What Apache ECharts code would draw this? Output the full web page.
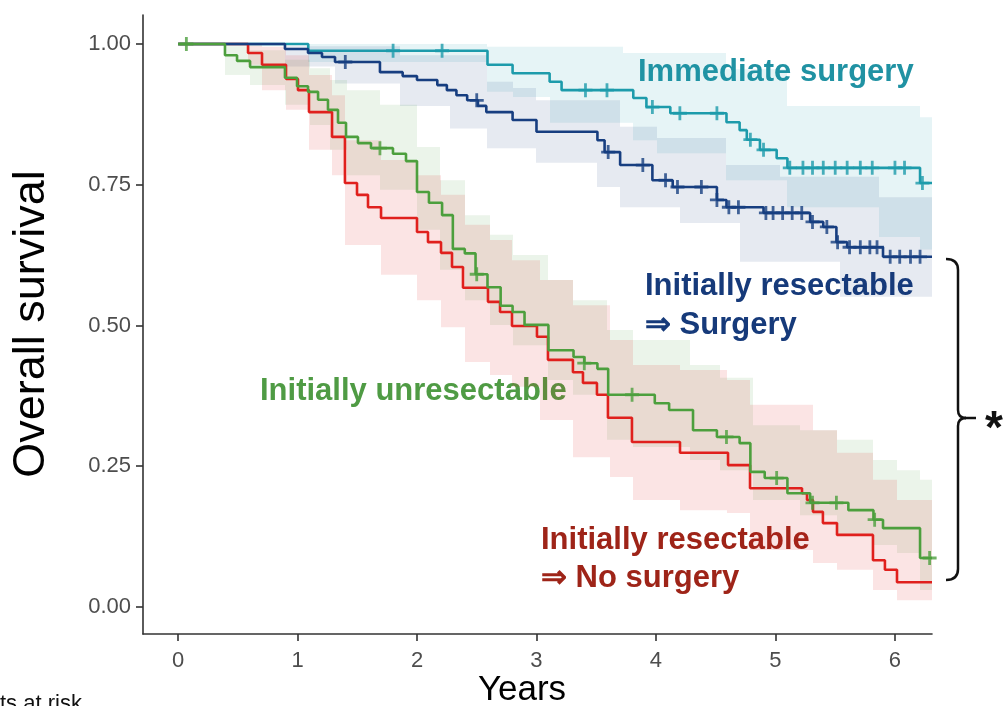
<!DOCTYPE html>
<html><head><meta charset="utf-8">
<script src="https://cdn.jsdelivr.net/npm/echarts@6/dist/echarts.min.js"></script>
<style>html,body{margin:0;padding:0;background:#fff}#c{width:1006px;height:706px}</style>
</head><body><div id="c"></div>
<script>
// ---- ticks ----
const xTicks = [0, 1, 2, 3, 4, 5, 6];
const yTicks = [0, 0.25, 0.5, 0.75, 1];
const xEnd = 6.31;

// ---- Immediate surgery ----
const tealT = [0, 1.09, 2.59, 2.80, 3.11, 3.21, 3.81, 3.92, 4.12, 4.59, 4.70, 4.76, 4.87, 5.01, 5.10, 6.21];
const tealS = [1.0, 0.988, 0.963, 0.948, 0.933, 0.918, 0.904, 0.888, 0.877, 0.861, 0.847, 0.830, 0.812, 0.797, 0.780, 0.753];
const tealCens = [1.80, 2.21, 3.41, 3.59, 3.97, 4.20, 4.51, 4.79, 4.90, 5.12, 5.23, 5.31, 5.40, 5.50, 5.60, 5.71, 5.81, 6.00, 6.08, 6.23];
const tealBandX = [0, 1.09, 2.59, 2.80, 3.11, 3.72, 3.81, 4.01, 4.59, 5.10, 5.87, 6.21, 6.31];
const tealBandLo = [1.0, 0.968, 0.915, 0.906, 0.860, 0.860, 0.829, 0.806, 0.758, 0.710, 0.657, 0.635];
const tealBandHi = [1.0, 1.0, 0.995, 0.995, 0.995, 0.984, 0.984, 0.984, 0.955, 0.890, 0.890, 0.870];

// ---- Initially resectable => Surgery ----
const blueT = [0, 0.895, 1.088, 1.205, 1.314, 1.69, 1.88, 2.0, 2.17, 2.25, 2.33, 2.42, 2.51, 2.58, 2.80, 3.00, 3.51, 3.57, 3.70, 3.97, 4.14, 4.51, 4.59, 4.90, 5.29, 5.40, 5.51, 5.60, 5.90];
const blueS = [1.0, 0.991, 0.984, 0.977, 0.968, 0.950, 0.943, 0.936, 0.927, 0.918, 0.909, 0.900, 0.890, 0.879, 0.865, 0.844, 0.829, 0.808, 0.785, 0.758, 0.746, 0.723, 0.710, 0.700, 0.684, 0.675, 0.648, 0.639, 0.622];
const blueCens = [1.40, 2.50, 3.60, 3.89, 4.08, 4.18, 4.38, 4.51, 4.61, 4.69, 4.92, 4.98, 5.06, 5.14, 5.22, 5.31, 5.43, 5.52, 5.62, 5.71, 5.79, 5.85, 5.96, 6.04, 6.13, 6.21];
const blueBandX = [0, 0.895, 1.314, 1.858, 2.276, 2.59, 2.80, 3.0, 3.51, 3.70, 4.01, 4.20, 4.59, 4.70, 5.04, 5.54, 5.87, 6.31];
const blueBandLo = [1.0, 0.96, 0.93, 0.89, 0.85, 0.815, 0.815, 0.789, 0.746, 0.710, 0.710, 0.682, 0.682, 0.613, 0.613, 0.551, 0.551];
const blueBandHi = [1.0, 0.996, 0.996, 0.980, 0.980, 0.933, 0.922, 0.900, 0.900, 0.853, 0.833, 0.833, 0.785, 0.785, 0.764, 0.764, 0.728];

// ---- Initially unresectable ----
const greenT = [0, 0.393, 0.494, 0.603, 0.895, 0.996, 1.088, 1.172, 1.255, 1.339, 1.406, 1.506, 1.615, 1.799, 1.908, 2.0, 2.10, 2.21, 2.30, 2.40, 2.49, 2.59, 2.70, 2.80, 2.90, 3.10, 3.31, 3.40, 3.51, 3.60, 3.99, 4.11, 4.31, 4.51, 4.70, 4.79, 4.91, 5.10, 5.29, 5.61, 5.82, 5.90, 6.21];
const greenS = [1.0, 0.980, 0.970, 0.959, 0.940, 0.925, 0.915, 0.901, 0.883, 0.860, 0.835, 0.824, 0.815, 0.805, 0.792, 0.737, 0.718, 0.696, 0.636, 0.628, 0.591, 0.568, 0.535, 0.524, 0.501, 0.456, 0.444, 0.433, 0.423, 0.377, 0.362, 0.350, 0.314, 0.302, 0.291, 0.240, 0.229, 0.202, 0.185, 0.172, 0.155, 0.140, 0.087];
const greenCens = [0.07, 1.69, 2.50, 3.40, 3.80, 4.59, 5.01, 5.31, 5.51, 5.83, 6.29];
const greenBandX = [0, 0.393, 0.603, 0.895, 1.105, 1.272, 1.414, 1.690, 2.0, 2.192, 2.402, 2.611, 2.803, 3.096, 3.305, 3.590, 3.808, 4.285, 4.536, 4.812, 5.205, 5.515, 5.816, 6.017, 6.209, 6.31];
const greenBandLo = [1.0, 0.945, 0.927, 0.892, 0.856, 0.812, 0.767, 0.741, 0.670, 0.599, 0.545, 0.501, 0.465, 0.403, 0.377, 0.297, 0.284, 0.261, 0.243, 0.190, 0.163, 0.128, 0.110, 0.096, 0.030];
const greenBandHi = [1.0, 0.996, 0.989, 0.972, 0.957, 0.936, 0.918, 0.892, 0.817, 0.758, 0.696, 0.661, 0.625, 0.581, 0.545, 0.492, 0.474, 0.430, 0.407, 0.323, 0.314, 0.297, 0.261, 0.243, 0.226];

// ---- Initially resectable => No surgery ----
const redT = [0, 0.586, 0.703, 0.904, 1.004, 1.096, 1.289, 1.397, 1.498, 1.590, 1.699, 2.0, 2.092, 2.201, 2.293, 2.385, 2.594, 2.695, 2.795, 3.004, 3.096, 3.305, 3.389, 3.506, 3.598, 3.799, 4.201, 4.603, 4.787, 5.222, 5.264, 5.314, 5.397, 5.515, 5.816, 5.916, 6.017];
const redS = [1.0, 0.984, 0.963, 0.938, 0.918, 0.879, 0.835, 0.753, 0.732, 0.710, 0.691, 0.666, 0.648, 0.629, 0.604, 0.567, 0.542, 0.524, 0.499, 0.480, 0.439, 0.417, 0.398, 0.377, 0.336, 0.293, 0.274, 0.252, 0.211, 0.202, 0.190, 0.169, 0.149, 0.128, 0.083, 0.066, 0.044];
const redBandX = [0, 0.586, 0.703, 0.904, 1.096, 1.289, 1.397, 1.699, 2.0, 2.201, 2.402, 2.611, 2.795, 3.029, 3.305, 3.615, 3.808, 4.201, 4.594, 4.787, 5.314, 5.515, 5.816, 6.017, 6.31];
const redBandLo = [1.0, 0.963, 0.918, 0.883, 0.812, 0.767, 0.643, 0.590, 0.545, 0.497, 0.435, 0.412, 0.391, 0.332, 0.266, 0.231, 0.190, 0.172, 0.167, 0.101, 0.078, 0.066, 0.030, 0.012];
const redBandHi = [1.0, 1.0, 0.995, 0.980, 0.945, 0.909, 0.829, 0.794, 0.767, 0.732, 0.679, 0.652, 0.616, 0.581, 0.536, 0.474, 0.430, 0.421, 0.403, 0.359, 0.314, 0.274, 0.226, 0.190];

// ---- helpers ----
const FONT = '"Liberation Sans", Arial, sans-serif';
const C = { teal: '#1d9bab', blue: '#173e80', green: '#4c9f3d', red: '#e0201d' };
const plusPath = 'path://M4,0H6V4H10V6H6V10H4V6H0V4H4Z';

function stepData(T, S) { const d = T.map((t, i) => [t, S[i]]); d.push([xEnd, S[S.length - 1]]); return d; }
function survAt(T, S, t) { let s = S[0]; for (let i = 0; i < T.length; i++) { if (T[i] <= t + 1e-9) s = S[i]; } return s; }
function bandSeries(X, Lo, Hi, color, op) {
  return {
    type: 'custom', silent: true, z: 1,
    data: Lo.map((lo, i) => [X[i], X[i + 1], lo, Hi[i]]),
    encode: { x: [0, 1], y: [2, 3] },
    renderItem: function (params, api) {
      const p0 = api.coord([api.value(0), api.value(3)]);
      const p1 = api.coord([api.value(1), api.value(2)]);
      const x0 = Math.round(p0[0]), x1 = Math.round(p1[0]);
      return { type: 'rect', shape: { x: x0, y: p0[1], width: x1 - x0, height: p1[1] - p0[1] }, style: { fill: color, opacity: op } };
    }
  };
}
function lineSeries(T, S, color, z) {
  return { type: 'line', data: stepData(T, S), step: 'end', symbol: 'none', showSymbol: false, z: z,
    lineStyle: { color: color, width: 2.6 }, emphasis: { disabled: true } };
}
function censSeries(T, S, cens, color, z) {
  return { type: 'scatter', data: cens.map(t => [t, survAt(T, S, t)]), symbol: plusPath, symbolSize: 14, z: z,
    itemStyle: { color: color }, emphasis: { disabled: true } };
}

const bracketStyle = { stroke: '#111', lineWidth: 2.5, fill: null };
const chart = echarts.init(document.getElementById('c'), null, { renderer: 'canvas' });
chart.setOption({
  animation: false,
  backgroundColor: '#fff',
  grid: { left: 143, right: 74, top: 15, bottom: 72 },
  xAxis: {
    type: 'value', min: -0.293, max: xEnd,
    axisLine: { show: true, onZero: false, lineStyle: { color: '#333', width: 1.6 } },
    axisTick: { show: true, customValues: xTicks, length: 7, lineStyle: { color: '#333', width: 1.6 } },
    axisLabel: { customValues: xTicks, fontSize: 22, color: '#4d4d4d', margin: 16, fontFamily: FONT },
    splitLine: { show: false }
  },
  yAxis: {
    type: 'value', min: -0.048, max: 1.0515,
    axisLine: { show: true, onZero: false, lineStyle: { color: '#333', width: 1.6 } },
    axisTick: { show: true, customValues: yTicks, length: 7, lineStyle: { color: '#333', width: 1.6 } },
    axisLabel: { customValues: yTicks, fontSize: 22, color: '#4d4d4d', margin: 12, fontFamily: FONT, formatter: v => v.toFixed(2) },
    splitLine: { show: false }
  },
  series: [
    bandSeries(tealBandX, tealBandLo, tealBandHi, C.teal, 0.11),
    bandSeries(blueBandX, blueBandLo, blueBandHi, C.blue, 0.11),
    bandSeries(greenBandX, greenBandLo, greenBandHi, C.green, 0.11),
    bandSeries(redBandX, redBandLo, redBandHi, C.red, 0.12),
    lineSeries(tealT, tealS, C.teal, 3),
    lineSeries(redT, redS, C.red, 4),
    lineSeries(blueT, blueS, C.blue, 5),
    lineSeries(greenT, greenS, C.green, 6),
    censSeries(tealT, tealS, tealCens, C.teal, 7),
    censSeries(blueT, blueS, blueCens, C.blue, 7),
    censSeries(greenT, greenS, greenCens, C.green, 7)
  ],
  graphic: [
    { type: 'text', x: 32, y: 324, rotation: Math.PI / 2, style: { text: 'Overall survival', font: '45px ' + FONT, align: 'center', verticalAlign: 'middle', fill: '#000' } },
    { type: 'text', x: 522, y: 690, style: { text: 'Years', font: '35px ' + FONT, align: 'center', verticalAlign: 'middle', fill: '#000' } },
    { type: 'text', x: 0, y: 693, style: { text: 'ts at risk', font: '22px ' + FONT, verticalAlign: 'top', fill: '#111' } },
    { type: 'text', x: 638, y: 72, style: { text: 'Immediate surgery', font: 'bold 31px ' + FONT, verticalAlign: 'middle', fill: '#2092a3' } },
    { type: 'text', x: 645, y: 286, style: { text: 'Initially resectable', font: 'bold 31px ' + FONT, verticalAlign: 'middle', fill: '#163a7a' } },
    { type: 'text', x: 645, y: 325, style: { text: '\u21D2 Surgery', font: 'bold 31px ' + FONT, verticalAlign: 'middle', fill: '#163a7a' } },
    { type: 'text', x: 260, y: 391, style: { text: 'Initially unresectable', font: 'bold 31px ' + FONT, verticalAlign: 'middle', fill: '#4f9b44' } },
    { type: 'text', x: 541, y: 540, style: { text: 'Initially resectable', font: 'bold 31px ' + FONT, verticalAlign: 'middle', fill: '#9e2418' } },
    { type: 'text', x: 541, y: 578, style: { text: '\u21D2 No surgery', font: 'bold 31px ' + FONT, verticalAlign: 'middle', fill: '#9e2418' } },
    { type: 'bezierCurve', shape: { x1: 946, y1: 259, cpx1: 958, cpy1: 259, x2: 958, y2: 270 }, style: bracketStyle },
    { type: 'line', shape: { x1: 958, y1: 270, x2: 958, y2: 410 }, style: bracketStyle },
    { type: 'bezierCurve', shape: { x1: 958, y1: 410, cpx1: 958, cpy1: 418, x2: 966, y2: 418 }, style: bracketStyle },
    { type: 'bezierCurve', shape: { x1: 966, y1: 418, cpx1: 958, cpy1: 418, x2: 958, y2: 426 }, style: bracketStyle },
    { type: 'line', shape: { x1: 958, y1: 426, x2: 958, y2: 569 }, style: bracketStyle },
    { type: 'bezierCurve', shape: { x1: 958, y1: 569, cpx1: 958, cpy1: 580, x2: 946, y2: 580 }, style: bracketStyle },
    { type: 'line', shape: { x1: 965, y1: 418, x2: 976, y2: 418 }, style: bracketStyle },
    { type: 'text', x: 994, y: 430, style: { text: '*', font: 'bold 46px ' + FONT, align: 'center', verticalAlign: 'middle', fill: '#111' } }
  ]
});
</script>
</body></html>
